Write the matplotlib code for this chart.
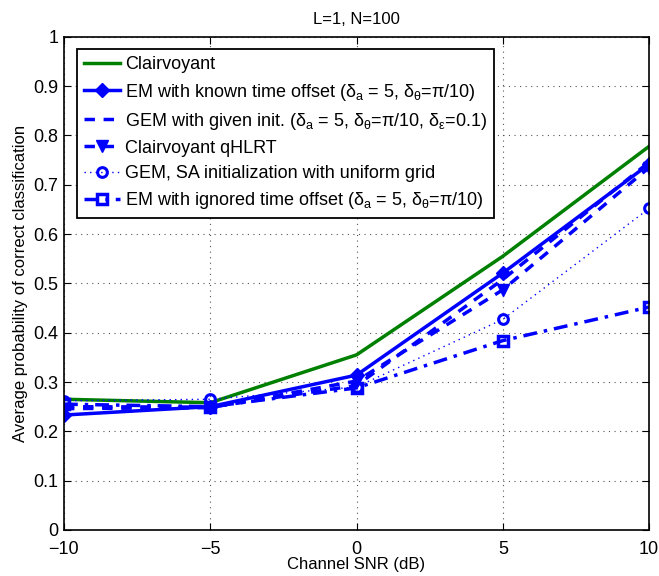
import matplotlib.pyplot as plt

plt.rcParams['font.family'] = ['Liberation Sans', 'DejaVu Sans']
plt.rcParams['mathtext.fontset'] = 'custom'
plt.rcParams['mathtext.rm'] = 'Liberation Sans'
plt.rcParams['mathtext.it'] = 'Liberation Sans'

snr = [-10, -5, 0, 5, 10]
clairvoyant = [0.265, 0.258, 0.355, 0.555, 0.778]
em_known = [0.233, 0.250, 0.314, 0.521, 0.742]
gem_given = [0.250, 0.249, 0.293, 0.508, 0.746]
qhlrt = [0.246, 0.248, 0.302, 0.487, 0.735]
gem_sa = [0.262, 0.265, 0.290, 0.427, 0.652]
em_ignored = [0.255, 0.250, 0.288, 0.384, 0.452]

labels = ['Clairvoyant',
          r'EM with known time offset ($\delta_a$ = 5, $\delta_\theta$=$\pi$/10)',
          r'GEM with given init. ($\delta_a$ = 5, $\delta_\theta$=$\pi$/10, $\delta_\epsilon$=0.1)',
          'Clairvoyant qHLRT',
          'GEM, SA initialization with uniform grid',
          r'EM with ignored time offset ($\delta_a$ = 5, $\delta_\theta$=$\pi$/10)']

blue = '#0000ff'
fig = plt.figure(figsize=(6.59, 5.76), dpi=100)
ax = fig.add_axes([0.097, 0.080, 0.888, 0.856])

ax.plot(snr, clairvoyant, color='#008000', lw=2.5, label=labels[0])
ax.plot(snr, em_known, color=blue, lw=2.5, marker='D', ms=7, label=labels[1])
ax.plot(snr, gem_given, color=blue, lw=2.5, ls=(0, (3, 2.5)), label=labels[2])
ax.plot(snr, qhlrt, color=blue, lw=2.5, ls=(0, (3, 2.5)), marker='v', ms=8, label=labels[3])
ax.plot(snr, gem_sa, color=blue, lw=1, ls=(0, (1, 3)), marker='o', ms=7,
        mfc='none', mew=2.2, label=labels[4])
ax.plot(snr, em_ignored, color=blue, lw=2.5, ls=(0, (4, 2, 1, 2)), marker='s', ms=7,
        mfc='none', mew=2.5, label=labels[5])

ax.set_xlim(-10, 10)
ax.set_ylim(0, 1)
ax.set_xticks(snr)
ax.set_xticklabels(['\u221210', '\u22125', '0', '5', '10'])
ax.set_yticks([i / 10 for i in range(11)])
ax.set_yticklabels(['0', '0.1', '0.2', '0.3', '0.4', '0.5', '0.6', '0.7', '0.8', '0.9', '1'])
ax.tick_params(direction='in', top=True, right=True, labelsize=13, length=5)
ax.tick_params(axis='x', pad=8)
ax.tick_params(axis='y', pad=4)
ax.grid(True, ls=(0, (1, 4)), color='#555555', lw=0.8)
for s in ax.spines.values():
    s.set_linewidth(1.2)

ax.set_xlabel('Channel SNR (dB)', fontsize=12, labelpad=-1)
ax.set_ylabel('Average probability of correct classification', fontsize=12, labelpad=4)
ax.set_title('L=1, N=100', fontsize=12, pad=9)

leg = ax.legend(loc='upper left', bbox_to_anchor=(0.022, 0.975), fontsize=13,
                fancybox=False, framealpha=1, edgecolor='black', handlelength=2.0,
                handletextpad=0.25, borderpad=0.4, labelspacing=0.45, borderaxespad=0)
leg.get_frame().set_linewidth(1.3)

fig.savefig('out.png', dpi=100)
